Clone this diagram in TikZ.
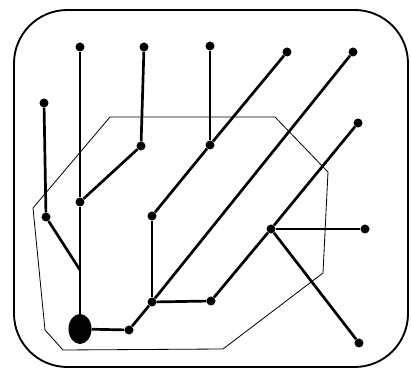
\documentclass[tikz,border=0pt]{standalone}
\usetikzlibrary{shapes.geometric}

\tikzset{
    dot/.style={circle, fill, inner sep=0pt, minimum size=0.27cm},
    rootdot/.style={ellipse, fill, inner sep=0pt, minimum width=0.69cm, minimum height=0.9cm},
    branch/.style={line width=2.3pt},
    rim/.style={line width=1.6pt, rounded corners=1.6cm},
    zone/.style={line width=0.7pt}
}

\begin{document}
\begin{tikzpicture}[x=0.03cm, y=-0.03cm]
    \useasboundingbox (0,0) rectangle (411,370);

    % frame and region
    \draw[rim] (14,10) rectangle (408,367);
    \draw[zone] (110,117) -- (275,117) -- (328,172) -- (323,273) -- (223,349)
        -- (63,350) -- (45,330) -- (33,208) -- cycle;

    % tree nodes
    \foreach \n/\x/\y in {top1/80/47, top2/144/47, top3/210/46, top4/287/52, top5/353/52,
                          side1/44/103, side2/358/123, k1/141/146, k2/210/145, k3/80/202,
                          k4/46/217, k5/152/216, hub/271/229, east/365/229, k6/152/302,
                          k7/211/301, k8/129/330, south/359/343}
        \node[dot] (\n) at (\x,\y) {};
    \node[rootdot] (root) at (80,329) {};
    \coordinate (join) at (80,270);

    % branches
    \foreach \a/\b in {top1/k3, k3/root, side1/k4, k4/join, top2/k1, k1/k3, top3/k2,
                       top4/k2, k2/k5, k5/k6, top5/k6, k6/k8, k8/root, k6/k7,
                       side2/hub, hub/k7, hub/east, hub/south}
        \draw[branch] (\a) -- (\b);
\end{tikzpicture}
\end{document}
